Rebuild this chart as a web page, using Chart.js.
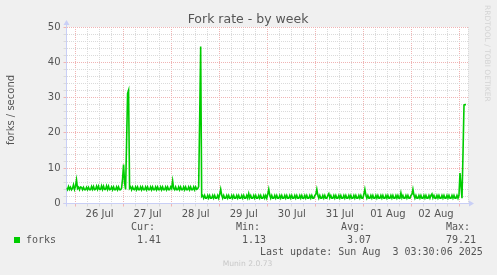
<!DOCTYPE html>
<html>
<head>
<meta charset="utf-8">
<script src="https://cdn.jsdelivr.net/npm/chart.js@4.4.1/dist/chart.umd.min.js"></script>
<style>
  html, body { margin: 0; padding: 0; background: #f0f0f0; }
  #wrap { position: relative; width: 497px; height: 275px; overflow: hidden; }
  canvas { position: absolute; left: 0; top: 0; }
  .t { position: absolute; white-space: pre; font-family: 'DejaVu Sans Mono', monospace; font-size: 10px; line-height: 12px; color: #555; }
  .sq { position: absolute; left: 14px; top: 237px; width: 6px; height: 6px; background: #00cc00; }
  .munin { position: absolute; left: 0; width: 495px; top: 258px; text-align: center; font-family: 'DejaVu Sans', sans-serif; font-size: 7.6px; line-height: 12px; color: #c8c8c8; }
  .rrd { position: absolute; left: 482px; top: 5px; writing-mode: vertical-rl; font-family: 'DejaVu Sans', sans-serif; font-size: 7.5px; line-height: 11px; color: #d4d4d4; white-space: nowrap; }
  .ytitle { position: absolute; left: 11px; top: 110px; transform: translate(-50%, -50%) rotate(-90deg); font-family: 'DejaVu Sans', sans-serif; font-size: 10px; line-height: 12px; color: #555; white-space: nowrap; }
</style>
</head>
<body>
<div id="wrap">
  <canvas id="c" width="497" height="275"></canvas>
  <div class="ytitle">forks / second</div>
  <div class="rrd">RRDTOOL / TOBI OETIKER</div>
  <div class="sq"></div>
  <div class="t" style="left:26px;top:234px">forks</div>
  <div class="t" style="left:131px;top:221px">Cur:</div>
  <div class="t" style="left:137px;top:234px">1.41</div>
  <div class="t" style="left:236px;top:221px">Min:</div>
  <div class="t" style="left:242px;top:234px">1.13</div>
  <div class="t" style="left:341px;top:221px">Avg:</div>
  <div class="t" style="left:347px;top:234px">3.07</div>
  <div class="t" style="left:446px;top:221px">Max:</div>
  <div class="t" style="left:446px;top:234px">79.21</div>
  <div class="t" style="left:260px;top:246px">Last update: Sun Aug  3 03:30:06 2025</div>
  <div class="munin">Munin 2.0.73</div>
</div>
<script>
// ---- data ----
// time axis in hours relative to 26 Jul 00:00, one sample every 30 minutes
const startHour = -4.5;
const stepHours = 0.5;
const dayLabels = ['26 Jul', '27 Jul', '28 Jul', '29 Jul', '30 Jul', '31 Jul', '01 Aug', '02 Aug'];
const yLabelValues = [0, 10, 20, 30, 40, 50];
const forks = [
  4.4,3.9,4.8,4.0,4.6,3.9,4.3,5.3,4.0,4.9,6.7,4.2,4.6,3.9,4.7,
  4.6,3.9,4.6,3.9,3.9,4.6,3.9,4.6,3.9,3.9,
  4.8,4.0,4.8,3.9,4.0,4.9,4.0,4.9,4.0,4.0,
  5.0,4.0,4.9,4.0,4.0,5.0,4.0,4.9,3.9,4.0,
  4.7,3.9,4.7,3.9,3.9,4.7,3.9,4.7,3.9,3.9,
  4.3,7.0,11.0,6.0,4.0,17.0,31.2,32.1,4.3,
  4.7,3.9,4.7,4.0,3.9,4.7,3.9,4.7,3.9,3.9,
  4.7,3.9,4.7,3.9,3.9,4.7,3.9,4.7,3.9,3.9,
  4.7,3.9,4.7,3.9,3.9,4.7,3.9,4.7,3.9,3.9,
  4.7,3.9,4.7,3.9,3.9,4.7,3.9,4.7,3.9,3.9,
  4.7,4.2,6.4,
  4.3,3.9,4.7,3.9,3.9,
  4.7,3.9,4.7,3.9,3.9,4.7,3.9,4.7,3.9,3.9,
  4.7,3.9,4.7,3.9,3.9,4.7,3.9,4.7,4.0,4.2,
  4.8,24.0,44.5,2.0,
  2.3,1.5,2.3,1.5,1.5,2.3,1.5,2.3,1.5,1.5,
  2.3,1.5,2.3,1.5,1.5,2.3,1.5,2.6,4.05,2.4,
  1.5,2.3,1.5,1.5,2.3,1.5,2.3,1.5,1.5,2.3,
  1.5,2.3,1.5,1.5,2.3,1.5,2.3,1.5,1.5,2.3,
  1.5,2.3,1.5,1.5,2.3,1.5,2.8,1.6,2.3,1.5,
  1.5,2.3,1.5,2.3,1.5,1.5,2.3,1.5,2.3,1.5,
  1.5,2.3,1.5,2.3,1.5,2.6,4.05,2.4,1.5,2.3,
  1.5,1.5,2.3,1.5,2.3,1.5,1.5,2.3,1.5,2.3,
  1.5,1.5,2.3,1.5,2.3,1.5,1.5,2.3,1.5,2.3,
  1.5,1.5,2.3,1.5,2.3,1.5,1.5,2.3,1.5,2.3,
  1.5,1.5,2.3,1.5,2.3,1.5,1.5,2.3,1.5,2.3,
  1.5,1.5,2.3,2.6,4.05,2.4,1.5,2.3,1.5,1.5,
  2.3,1.5,2.3,1.5,1.5,2.3,2.8,1.6,2.3,1.5,
  1.5,2.3,1.5,2.3,1.5,1.5,2.3,1.5,2.3,1.5,
  1.5,2.3,1.5,2.3,1.5,1.5,2.3,1.5,2.3,1.5,
  1.5,2.3,1.5,2.3,1.5,1.5,2.3,1.5,2.3,1.5,
  1.5,2.6,4.05,2.4,1.5,2.3,1.5,1.5,2.3,1.5,
  2.3,1.5,1.5,2.3,1.5,2.3,1.5,1.5,2.3,1.5,
  2.3,1.5,1.5,2.3,1.5,2.3,1.5,1.5,2.3,1.5,
  2.3,1.5,1.5,2.3,1.5,2.3,1.5,1.5,3.0,1.6,
  2.3,1.5,1.5,2.3,1.5,2.3,1.5,1.5,2.3,2.6,
  4.05,2.4,1.5,2.3,1.5,1.5,2.3,1.5,2.3,1.5,
  1.5,2.3,1.5,2.3,1.5,1.5,2.3,1.5,2.3,2.7,
  1.6,2.3,1.5,1.5,2.3,1.5,2.3,1.5,1.5,2.3,
  1.5,2.3,1.5,1.5,2.3,1.5,2.3,1.5,1.5,2.3,
  1.5,2.3,1.5,1.5,2.3,1.5,2.4,8.6,5.0,1.5,
  14.0,27.9,28.0,28.0
];
const xMin = -4.5, xMax = 196;

// ---- styles ----
const MINOR = '#dadada';
const MAJOR = '#f0b4b4';
const AXIS = '#c9cff6';
const TXT = '#555555';

Chart.defaults.font.family = "'DejaVu Sans', sans-serif";
Chart.defaults.color = TXT;

const points = forks.map((v, i) => ({ x: startHour + i * stepHours, y: v }));

const munin = {
  id: 'munin',
  beforeDraw(chart) {
    const { ctx, chartArea: a } = chart;
    ctx.save();
    ctx.fillStyle = '#ffffff';
    ctx.fillRect(a.left, a.top, a.right - a.left, a.bottom - a.top);
    ctx.restore();
  },
  beforeDatasetsDraw(chart) {
    const { ctx, chartArea: a } = chart;
    ctx.save();
    ctx.strokeStyle = MINOR; ctx.lineWidth = 1; ctx.setLineDash([1, 1]);
    ctx.beginPath(); ctx.moveTo(Math.round(a.right) + 0.5, a.top); ctx.lineTo(Math.round(a.right) + 0.5, a.bottom); ctx.stroke();
    ctx.setLineDash([]);
    const x0 = Math.round(a.left - 0.5) + 0.5;
    const y0 = Math.round(a.bottom - 0.5) + 0.5;
    ctx.strokeStyle = AXIS; ctx.fillStyle = AXIS;
    ctx.beginPath();
    ctx.moveTo(x0, a.bottom + 3); ctx.lineTo(x0, a.top - 4);
    ctx.moveTo(a.left - 3, y0); ctx.lineTo(a.right + 2, y0);
    ctx.stroke();
    ctx.beginPath();
    ctx.moveTo(x0, a.top - 7); ctx.lineTo(x0 - 3, a.top - 2); ctx.lineTo(x0 + 3, a.top - 2); ctx.closePath(); ctx.fill();
    ctx.beginPath();
    ctx.moveTo(a.right + 6, y0); ctx.lineTo(a.right + 1, y0 - 3); ctx.lineTo(a.right + 1, y0 + 3); ctx.closePath(); ctx.fill();
    ctx.restore();
  }
};

new Chart(document.getElementById('c'), {
  type: 'line',
  data: {
    datasets: [{
      label: 'forks',
      data: points,
      borderColor: '#00cc00',
      borderWidth: 1.6,
      pointRadius: 0,
      tension: 0,
      fill: false
    }]
  },
  options: {
    responsive: false,
    animation: false,
    events: [],
    layout: { padding: { left: 28, right: 29, top: 8, bottom: 0 } },
    plugins: {
      legend: { display: false },
      tooltip: { enabled: false },
      title: {
        display: true,
        text: 'Fork rate - by week',
        color: TXT,
        font: { size: 12.5, weight: 'normal' },
        padding: { top: 4, bottom: 0 }
      }
    },
    scales: {
      x: {
        type: 'linear',
        min: xMin, max: xMax,
        afterFit(s) { s.height = 71.5; },
        afterBuildTicks(s) {
          const t = [];
          for (let h = 0; h <= 192; h += 6) t.push({ value: h });
          s.ticks = t;
        },
        ticks: {
          autoSkip: false, maxRotation: 0, minRotation: 0, padding: 2,
          font: { size: 10 }, color: TXT,
          callback(v) { return v % 24 === 12 ? dayLabels[(v - 12) / 24] : ''; }
        },
        grid: {
          color: c => (c.tick && c.tick.value % 24 === 0) ? MAJOR : MINOR,
          tickColor: c => (c.tick && c.tick.value % 24 === 0) ? MAJOR : MINOR,
          tickLength: 3, tickBorderDash: [], lineWidth: 1
        },
        border: { display: false, dash: [1, 1] }
      },
      y: {
        min: 0, max: 50,
        afterFit(s) { s.width = 38.5; },
        ticks: {
          stepSize: 2, autoSkip: false, padding: 3,
          font: { size: 10 }, color: TXT,
          callback(v) { return yLabelValues.includes(v) ? String(v) : ''; }
        },
        grid: {
          color: c => (c.tick && c.tick.value % 10 === 0) ? MAJOR : MINOR,
          tickColor: c => (c.tick && c.tick.value % 10 === 0) ? MAJOR : MINOR,
          tickLength: 3, tickBorderDash: [], lineWidth: 1
        },
        border: { display: false, dash: [1, 1] }
      }
    }
  },
  plugins: [munin]
});
</script>
</body>
</html>
